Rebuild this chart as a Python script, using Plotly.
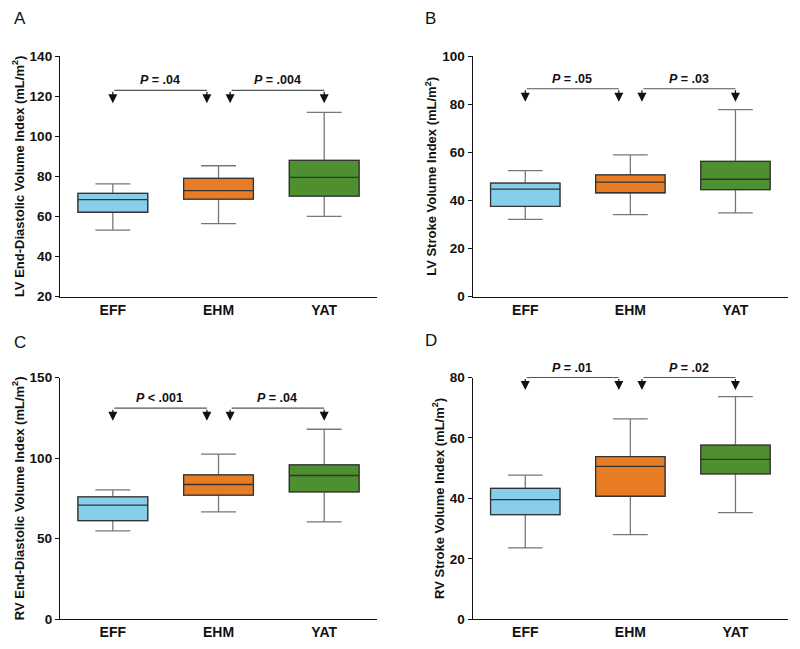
import plotly.graph_objects as go
from plotly.subplots import make_subplots

groups = ["EFF", "EHM", "YAT"]
box_colors = ["#87CEEB", "#E87C24", "#4E8F30"]

# A - LV end-diastolic volume index
lvedvi_low = [53.2, 56.4, 60.1]
lvedvi_q1 = [62.1, 68.7, 70.2]
lvedvi_med = [68.4, 72.9, 79.5]
lvedvi_q3 = [71.5, 79.0, 88.0]
lvedvi_high = [76.3, 85.3, 111.9]
lvedvi_p = ["= .04", "= .004"]

# B - LV stroke volume index
lvsvi_low = [32.1, 34.1, 34.8]
lvsvi_q1 = [37.5, 43.2, 44.5]
lvsvi_med = [44.7, 47.6, 48.8]
lvsvi_q3 = [47.2, 50.6, 56.2]
lvsvi_high = [52.4, 58.9, 77.7]
lvsvi_p = ["= .05", "= .03"]

# C - RV end-diastolic volume index
rvedvi_low = [54.8, 66.6, 60.4]
rvedvi_q1 = [61.2, 77.0, 79.0]
rvedvi_med = [70.8, 83.6, 89.2]
rvedvi_q3 = [75.9, 89.6, 95.8]
rvedvi_high = [80.3, 102.4, 117.9]
rvedvi_p = ["< .001", "= .04"]

# D - RV stroke volume index
rvsvi_low = [23.6, 28.0, 35.3]
rvsvi_q1 = [34.6, 40.7, 48.1]
rvsvi_med = [39.6, 50.6, 52.9]
rvsvi_q3 = [43.3, 53.8, 57.6]
rvsvi_high = [47.7, 66.3, 73.7]
rvsvi_p = ["= .01", "= .02"]

FONT = "Liberation Sans, Arial, sans-serif"

fig = make_subplots(rows=2, cols=2)

panels = [
    # row, col, stats, p labels, y range, dtick, title, bracket level, arrow tip
    (1, 1, (lvedvi_low, lvedvi_q1, lvedvi_med, lvedvi_q3, lvedvi_high),
     lvedvi_p, [20, 140], 20,
     "LV End-Diastolic Volume Index (mL/m<sup>2</sup>)", 122.9, 116.4),
    (1, 2, (lvsvi_low, lvsvi_q1, lvsvi_med, lvsvi_q3, lvsvi_high),
     lvsvi_p, [0, 100], 20,
     "LV Stroke Volume Index (mL/m<sup>2</sup>)", 86.4, 81.0),
    (2, 1, (rvedvi_low, rvedvi_q1, rvedvi_med, rvedvi_q3, rvedvi_high),
     rvedvi_p, [0, 150], 50,
     "RV End-Diastolic Volume Index (mL/m<sup>2</sup>)", 131.0, 123.1),
    (2, 2, (rvsvi_low, rvsvi_q1, rvsvi_med, rvsvi_q3, rvsvi_high),
     rvsvi_p, [0, 80], 20,
     "RV Stroke Volume Index (mL/m<sup>2</sup>)", 80.0, 75.9),
]

annotations = []
for idx, (r, c, stats, plabels, yrange, dtick, ytitle, level, tip) in enumerate(panels):
    low, q1, med, q3, high = stats
    for i, g in enumerate(groups):
        # full box: grey whiskers
        fig.add_trace(go.Box(
            x=[g], lowerfence=[low[i]], q1=[q1[i]], median=[med[i]],
            q3=[q3[i]], upperfence=[high[i]],
            fillcolor=box_colors[i], line=dict(color="#777777", width=1.3),
            width=0.66, whiskerwidth=0.5, boxpoints=False,
            showlegend=False, hoverinfo="skip",
        ), row=r, col=c)
        # box body again with darker outline / median
        fig.add_trace(go.Box(
            x=[g], lowerfence=[q1[i]], q1=[q1[i]], median=[med[i]],
            q3=[q3[i]], upperfence=[q3[i]],
            fillcolor=box_colors[i], line=dict(color="#333333", width=1.3),
            width=0.66, whiskerwidth=0.5, boxpoints=False,
            showlegend=False, hoverinfo="skip",
        ), row=r, col=c)

    n = idx + 1
    xr = "x" if n == 1 else f"x{n}"
    yr = "y" if n == 1 else f"y{n}"
    brackets = [(0, 1 - 0.11), (1 + 0.11, 2)]
    for (x0, x1), pl in zip(brackets, plabels):
        # horizontal bracket line
        annotations.append(dict(
            x=x1, y=level, ax=x0, ay=level, xref=xr, yref=yr, axref=xr, ayref=yr,
            text="", showarrow=True, arrowhead=0, arrowwidth=1.2, arrowcolor="#555555",
        ))
        for xe in (x0, x1):
            annotations.append(dict(
                x=xe, y=tip, ax=xe, ay=level, xref=xr, yref=yr, axref=xr, ayref=yr,
                text="", showarrow=True, arrowhead=2, arrowsize=1.5, arrowwidth=1.2,
                arrowcolor="#111111", standoff=0,
            ))
        annotations.append(dict(
            x=(x0 + x1) / 2, y=level, xref=xr, yref=yr, yshift=10,
            text=f"<b><i>P</i> {pl}</b>", showarrow=False,
            font=dict(family=FONT, size=12.5, color="#111111"),
        ))

    fig.update_yaxes(
        row=r, col=c, range=yrange, dtick=dtick, showline=True, linecolor="#111111",
        linewidth=1.3, ticks="outside", ticklen=4, tickcolor="#111111", tickwidth=1.3,
        showgrid=False, zeroline=False, automargin=False,
        tickfont=dict(family=FONT, size=13.5, color="#111111", weight="bold"),
        title=dict(text=f"<b>{ytitle}</b>", standoff=2,
                   font=dict(family=FONT, size=13, color="#111111")),
    )
    fig.update_xaxes(
        row=r, col=c, range=[-0.5, 2.5], showline=True, linecolor="#111111",
        linewidth=1.3, ticks="", showgrid=False, zeroline=False, automargin=False,
        ticklabelstandoff=0,
        tickfont=dict(family=FONT, size=14, color="#111111", weight="bold"),
    )

# panel letters
for letter, px, py in [("A", 0.015, 0.971), ("B", 0.529, 0.971),
                       ("C", 0.015, 0.473), ("D", 0.529, 0.475)]:
    annotations.append(dict(
        x=px, y=py, xref="paper", yref="paper", xanchor="left", yanchor="middle",
        text=letter, showarrow=False, font=dict(family=FONT, size=17, color="#111111"),
    ))

fig.update_layout(
    width=800, height=649, margin=dict(l=0, r=0, t=0, b=0),
    paper_bgcolor="white", plot_bgcolor="white", boxmode="overlay",
    annotations=annotations,
    xaxis=dict(domain=[0.075, 0.4713]), xaxis2=dict(domain=[0.5909, 0.985]),
    xaxis3=dict(domain=[0.075, 0.4713]), xaxis4=dict(domain=[0.5909, 0.985]),
    yaxis=dict(domain=[0.5428, 0.9137]), yaxis2=dict(domain=[0.5428, 0.9137]),
    yaxis3=dict(domain=[0.0459, 0.4183]), yaxis4=dict(domain=[0.0459, 0.4183]),
)

# drop the browser's default body margin so the figure sits at the page corner
fig.write_html("out.html", config={"displayModeBar": False},
               post_script="document.body.style.margin='0px';")
